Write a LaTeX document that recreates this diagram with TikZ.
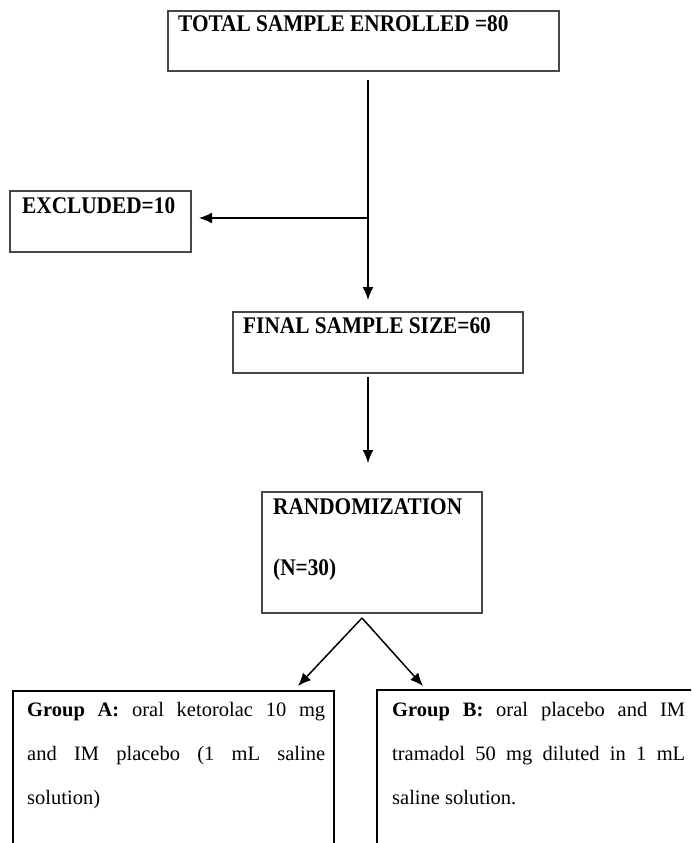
\documentclass[tikz,border=0pt]{standalone}
\usepackage{fontspec}
\setmainfont{Liberation Serif}
\usetikzlibrary{arrows.meta}
\newcommand{\tallhead}[1]{\scalebox{1}[1.12]{#1}}
\tikzset{
  box/.style={draw=black!72, line width=1.3pt, rectangle, inner sep=0pt, fill=none},
  gbox/.style={draw=black, line width=1.2pt},
  head/.style={anchor=base west, inner sep=0pt, font=\fontsize{21.3}{25}\selectfont\bfseries},
  body/.style={anchor=base west, inner sep=0pt, font=\fontsize{20.5}{24}\selectfont},
  arr/.style={line width=1.5pt, -{Latex[length=13pt,width=11pt]}},
  ln/.style={line width=1.5pt}
}
\begin{document}
\begin{tikzpicture}[x=1pt,y=-1pt]
\useasboundingbox (0,0) rectangle (691,843);
\clip (0,0) rectangle (691,843);
% boxes
\node[box, minimum width=391pt, minimum height=60pt] (total) at (363.5,41) {};
\node[box, minimum width=181pt, minimum height=61pt] (excl) at (100.5,221.5) {};
\node[box, minimum width=290pt, minimum height=61pt] (final) at (378,342.5) {};
\node[box, minimum width=220pt, minimum height=121pt] (rand) at (372,552.5) {};
\draw[gbox] (13,870) -- (13,691) -- (334,691) -- (334,870);
\draw[gbox] (377,870) -- (377,690) -- (700,690);
% texts
\node[head] (ttotal) at (178,32) {\tallhead{TOTAL SAMPLE ENROLLED =80}};
\node[head] (texcl) at (22,213) {\tallhead{EXCLUDED=10}};
\node[head] (tfinal) at (243,333) {\tallhead{FINAL SAMPLE SIZE=60}};
\node[head] (trand) at (273,514) {\tallhead{RANDOMIZATION}};
\node[head] (tn) at (273,575) {\tallhead{(N=30)}};
\node[body] (ga1) at (27,716) {\makebox[298pt][s]{\textbf{Group A:} oral ketorolac 10 mg}};
\node[body] (ga2) at (27,760) {\makebox[298pt][s]{and IM placebo (1 mL saline}};
\node[body] (ga3) at (27,804) {solution)};
\node[body] (gb1) at (392,716) {\makebox[293pt][s]{\textbf{Group B:} oral placebo and IM}};
\node[body] (gb2) at (392,760) {\makebox[293pt][s]{tramadol 50 mg diluted in 1 mL}};
\node[body] (gb3) at (392,804) {saline solution.};
% connector coordinates
\coordinate (s1) at (368,80);
\coordinate (j1) at (368,218);
\coordinate (e1) at (368,300);
\coordinate (ex) at (199,218);
\coordinate (s2) at (368,377);
\coordinate (e2) at (368,463);
\coordinate (ap) at (362,618);
\coordinate (ta) at (298,686);
\coordinate (tb) at (423,686);
% connectors
\draw[arr] (s1) -- (e1);
\draw[arr] (j1) -- (ex);
\draw[arr] (s2) -- (e2);
\draw[arr] (ap) -- (ta);
\draw[arr] (ap) -- (tb);
\end{tikzpicture}
\end{document}
